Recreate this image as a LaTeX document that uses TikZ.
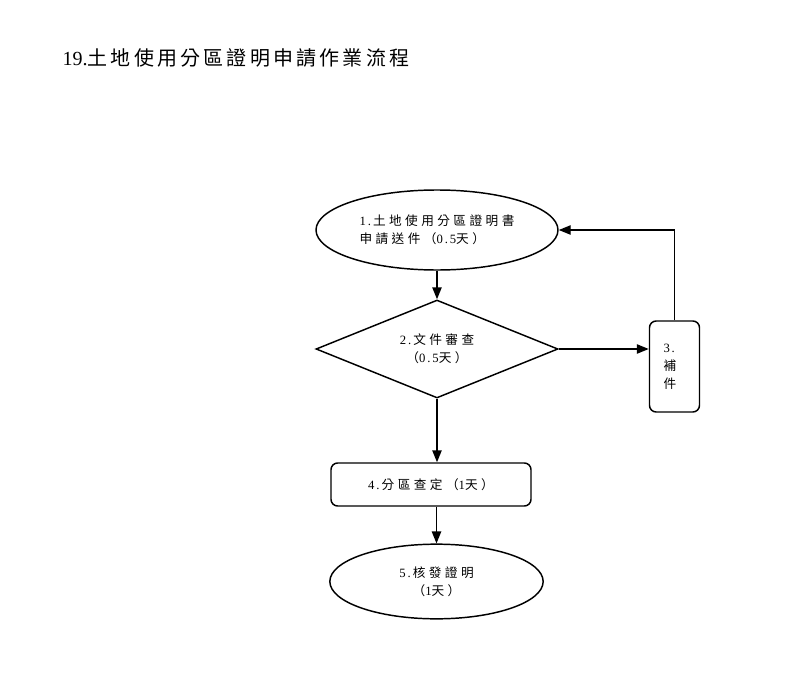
\documentclass[tikz,border=0pt]{standalone}
\usepackage{fontspec}
\setmainfont{Liberation Serif}
\newfontfamily\spaced[LetterSpace=15]{Liberation Serif}
\newfontfamily\zhfont[LetterSpace=27]{Noto Sans CJK TC}
\newfontfamily\zhtitle[LetterSpace=16]{Noto Sans CJK TC}
\newcommand{\zh}[1]{{\zhfont #1}}
\usetikzlibrary{arrows.meta,shapes.geometric}

\begin{document}
\begin{tikzpicture}[x=0.75pt,y=-0.75pt,
    flow/.style={draw,line width=1.1pt,font=\spaced\fontsize{9.5}{13.5}\selectfont,
        align=center,inner sep=0pt},
    oval/.style={flow,ellipse},
    check/.style={flow,diamond,shape aspect=2.5},
    task/.style={flow,rectangle,rounded corners=5pt},
    link/.style={line width=1.1pt,-{Triangle[length=9pt,width=7pt]}}]
    \useasboundingbox (0,0) rectangle (800,700);

    % title
    \node[anchor=west,font=\fontsize{15}{18}\selectfont] (title) at (58,58)
        {19.{\zhtitle 土地使用分區證明申請作業流程}};

    % steps
    \node[oval,align=left,minimum width=181.5pt,minimum height=60pt] (apply) at (437,230)
        {1.\,\zh{土地使用分區證明書}\\\zh{申請送件（}0.5\zh{天）}};
    \node[check,minimum width=181.5pt,minimum height=73.5pt] (review) at (437,349)
        {2.\,\zh{文件審查}\\\zh{（}0.5\zh{天）}};
    \node[task,align=left,text width=16.5pt,inner xsep=10.5pt,minimum height=68.25pt] (supply) at (674.5,366.5)
        {3.\\\zh{補}\\\zh{件}};
    \node[task,minimum width=150pt,minimum height=32.25pt] (zoning) at (431,484.5)
        {4.\,\zh{分區查定（}1\zh{天）}};
    \node[oval,minimum width=160pt,minimum height=56pt] (issue) at (436.5,581.5)
        {5.\,\zh{核發證明}\\\zh{（}1\zh{天）}};

    % connectors
    \draw[link] (apply.south) -- (review.north);
    \draw[link] (review.east) -- (review.east -| supply.west);
    \draw[link] (supply.north) -- (supply.north |- apply.east) -- (apply.east);
    \draw[link] (review.south) -- (review.south |- zoning.north);
    \draw[link] (issue.north |- zoning.south) -- (issue.north);
\end{tikzpicture}
\end{document}
